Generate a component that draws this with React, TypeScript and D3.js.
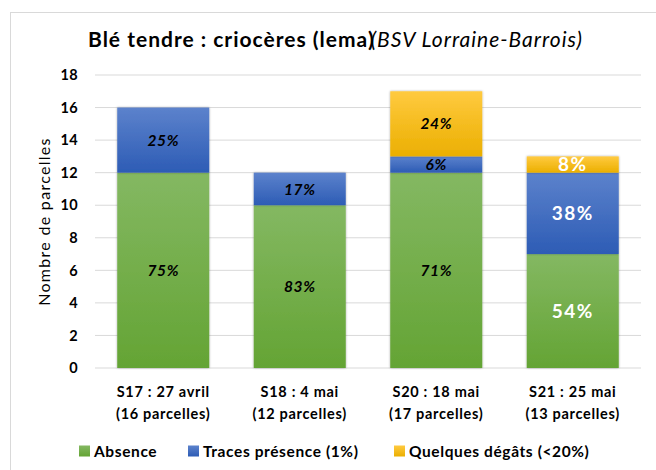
import * as d3 from 'd3';

const categories = ['S17 : 27 avril', 'S18 : 4 mai', 'S20 : 18 mai', 'S21 : 25 mai'];
const subLabels = ['(16 parcelles)', '(12 parcelles)', '(17 parcelles)', '(13 parcelles)'];
const absence = [12, 10, 12, 7];
const traces = [4, 2, 1, 5];
const degats = [0, 0, 4, 1];
const yTicks = [0, 2, 4, 6, 8, 10, 12, 14, 16, 18];

const seriesNames = ['Absence', 'Traces présence (1%)', 'Quelques dégâts (<20%)'];
const seriesKeys = ['absence', 'traces', 'degats'];
const gradients = [
  ['#84b862', '#64a434'],
  ['#5c82cc', '#2d5cb5'],
  ['#ffca40', '#ebaf00'],
];

const W = 656;
const H = 470;
const FONT = 'Lato, Calibri, sans-serif';

export default function App() {
  const rows = categories.map((c, i) => ({
    cat: c,
    absence: absence[i],
    traces: traces[i],
    degats: degats[i],
  }));

  const x = d3.scaleBand<string>()
    .domain(categories)
    .range([95, 641])
    .paddingInner(0.326)
    .paddingOuter(0.163);

  const y = d3.scaleLinear().domain([0, 18]).range([368, 75]);

  const stacked = d3.stack<any>().keys(seriesKeys)(rows);
  const legendX = [79, 188, 394];

  return (
    <div style={{ position: 'absolute', left: 0, top: 0 }}>
      <svg width={W} height={H} style={{ display: 'block', fontFamily: FONT }}>
        <defs>
          {gradients.map((g, i) => (
            <linearGradient key={i} id={`grad${i}`} x1="0" y1="0" x2="0" y2="1">
              <stop offset="0%" stopColor={g[0]} />
              <stop offset="100%" stopColor={g[1]} />
            </linearGradient>
          ))}
          <filter id="shadow" x="-10%" y="-10%" width="120%" height="120%">
            <feDropShadow dx="0" dy="0" stdDeviation="1.2" floodColor="#000" floodOpacity="0.35" />
          </filter>
        </defs>

        <rect x={0} y={0} width={W} height={H} fill="#fff" />
        {/* chart border */}
        <line x1={10} x2={W} y1={12.5} y2={12.5} stroke="#d9d9d9" />
        <line x1={10.5} x2={10.5} y1={12} y2={H} stroke="#d9d9d9" />

        {/* title */}
        <text x={88} y={47} fontSize={21} fill="#000" letterSpacing={1}>
          <tspan fontWeight="bold">Blé tendre : criocères (lema)</tspan>
          <tspan fontStyle="italic" dx={-4}>(BSV Lorraine-Barrois)</tspan>
        </text>

        {/* gridlines */}
        {yTicks.map(t => (
          <line key={t} x1={95} x2={641} y1={y(t)} y2={y(t)} stroke="#d9d9d9" strokeWidth={1} />
        ))}
        {yTicks.map(t => (
          <text key={'l' + t} x={78} y={y(t)} dy="0.36em" textAnchor="end"
            fontSize={14.5} fontWeight="bold" fill="#000" letterSpacing={0.4}>{t}</text>
        ))}
        <text transform={`translate(50,${y(9)}) rotate(-90)`} textAnchor="middle"
          fontSize={16} fill="#000" letterSpacing={1.3}>Nombre de parcelles</text>

        {/* bars */}
        {stacked.map((s, si) => (
          <g key={s.key} filter="url(#shadow)">
            {s.map((d, i) => {
              const h = y(d[0]) - y(d[1]);
              if (h <= 0) return null;
              return (
                <rect key={i} x={x(categories[i])} y={y(d[1])} width={x.bandwidth()} height={h}
                  fill={`url(#grad${si})`} />
              );
            })}
          </g>
        ))}

        {/* data labels */}
        {stacked.map((s, si) => (
          <g key={'t' + s.key}>
            {s.map((d, i) => {
              const v = d[1] - d[0];
              if (v <= 0) return null;
              const total = absence[i] + traces[i] + degats[i];
              const pct = Math.round((v / total) * 100) + '%';
              const last = i === 3;
              return (
                <text key={i} x={x(categories[i])! + x.bandwidth() / 2} y={y((d[0] + d[1]) / 2)}
                  dy="0.36em" textAnchor="middle" fontWeight="bold"
                  fontStyle={last ? 'normal' : 'italic'} letterSpacing={last ? 1.5 : 0.6}
                  fontSize={last ? 19 : 15.5} fill={last ? '#fff' : '#000'}>{pct}</text>
              );
            })}
          </g>
        ))}

        {/* x labels */}
        {categories.map((c, i) => (
          <text key={c} x={x(c)! + x.bandwidth() / 2} textAnchor="middle" fontSize={14.5}
            fontWeight="bold" fill="#000" letterSpacing={0.7}>
            <tspan x={x(c)! + x.bandwidth() / 2} y={397}>{c}</tspan>
            <tspan x={x(c)! + x.bandwidth() / 2} y={419}>{subLabels[i]}</tspan>
          </text>
        ))}

        {/* legend */}
        {seriesNames.map((n, i) => (
          <g key={n} transform={`translate(${legendX[i]},451)`}>
            <rect x={0} y={-5.5} width={11} height={11} fill={`url(#grad${i})`} />
            <text x={15} y={6} fontSize={15.5} fontWeight="bold" fill="#000" letterSpacing={0.6}>{n}</text>
          </g>
        ))}
      </svg>
    </div>
  );
}
